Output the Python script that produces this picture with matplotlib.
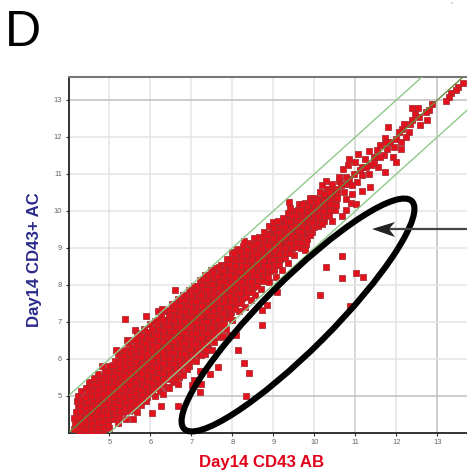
import matplotlib
matplotlib.use("Agg")
import matplotlib.pyplot as plt
from matplotlib.patches import Ellipse, Polygon

x_ticks = [5, 6, 7, 8, 9, 10, 11, 12, 13]
y_ticks = [5, 6, 7, 8, 9, 10, 11, 12, 13]
x_label = "Day14 CD43 AB"
y_label = "Day14 CD43+ AC"
panel_letter = "D"
fold_offsets = [-1, 0, 1]

# outline of the saturated part of the cloud, where single points cannot be told apart
mass_x = [4.2, 4.6, 5.0, 5.4, 5.8, 6.2, 6.6, 7.0, 7.4, 7.8, 8.2, 8.6, 9.0, 9.4, 9.8, 10.2, 10.5]
mass_low = [4.15, 4.18, 4.3, 4.6, 5.0, 5.3, 5.65, 6.05, 6.45, 6.95, 7.5, 7.95, 8.35, 8.85, 9.3, 9.75, 10.1]
mass_up = [4.8, 5.35, 5.8, 6.2, 6.6, 7.0, 7.4, 7.75, 8.15, 8.5, 8.9, 9.25, 9.6, 9.95, 10.2, 10.45, 10.5]

cloud_low = [
 (4.14,4.1),(4.16,4.26),(4.13,4.41),(4.18,4.55),(4.22,4.7),(4.27,4.12),(4.3,4.27),(4.26,4.43),(4.31,4.58),(4.29,4.74),
 (4.33,4.88),(4.41,4.1),(4.44,4.24),(4.4,4.38),(4.46,4.52),(4.42,4.67),(4.45,4.82),(4.41,4.97),(4.47,5.09),
 (4.55,4.13),(4.58,4.27),(4.54,4.42),(4.59,4.56),(4.55,4.71),(4.6,4.85),(4.56,5.0),(4.6,5.15),(4.57,5.28),
 (4.69,4.15),(4.72,4.3),(4.67,4.45),(4.71,4.6),(4.68,4.74),(4.73,4.89),(4.69,5.03),(4.72,5.18),(4.68,5.32),(4.74,5.44),
 (4.83,4.16),(4.85,4.32),(4.81,4.47),(4.86,4.62),(4.82,4.77),(4.87,4.91),(4.83,5.06),(4.86,5.2),(4.82,5.35),(4.87,5.5),
 (4.96,4.22),(4.99,4.36),(4.95,4.51),(5.0,4.66),(4.96,4.8),(5.01,4.95),(4.97,5.1),(5.0,5.24),(4.96,5.39),(5.01,5.53),(4.97,5.68),(5.0,5.8),
 (5.1,4.38),(5.13,4.52),(5.09,4.67),(5.14,4.81),(5.1,4.96),(5.13,5.1),(5.09,5.25),(5.14,5.39),(5.1,5.54),(5.13,5.68),(5.09,5.83),(5.14,5.95),
 (5.23,4.44),(5.26,4.6),(5.22,4.74),(5.27,4.89),(5.23,5.03),(5.26,5.18),(5.22,5.32),(5.27,5.47),(5.23,5.61),(5.26,5.76),(5.22,5.9),(5.27,6.03),
 (5.37,4.67),(5.4,4.82),(5.36,4.96),(5.41,5.11),(5.37,5.25),(5.4,5.4),(5.36,5.54),(5.41,5.69),(5.37,5.83),(5.4,5.98),(5.36,6.1),(5.41,6.24),
 (5.5,4.72),(5.53,4.87),(5.49,5.01),(5.54,5.16),(5.5,5.3),(5.53,5.45),(5.49,5.59),(5.54,5.74),(5.5,5.88),(5.53,6.03),(5.49,6.17),(5.54,6.31),
 (5.64,4.78),(5.67,4.93),(5.63,5.07),(5.68,5.22),(5.64,5.36),(5.67,5.51),(5.63,5.65),(5.68,5.8),(5.64,5.94),(5.67,6.09),(5.63,6.23),(5.68,6.38),(5.65,6.5),
 (5.77,4.9),(5.8,5.04),(5.76,5.19),(5.81,5.33),(5.77,5.48),(5.8,5.62),(5.76,5.77),(5.81,5.91),(5.77,6.06),(5.8,6.2),(5.76,6.35),(5.81,6.49),(5.78,6.62),
 (5.91,4.98),(5.94,5.12),(5.9,5.27),(5.95,5.41),(5.91,5.56),(5.94,5.7),(5.9,5.85),(5.95,5.99),(5.91,6.14),(5.94,6.28),(5.9,6.43),(5.95,6.57),(5.91,6.72),
]

cloud_mid = [
 (6.04,5.08),(6.07,5.22),(6.03,5.37),(6.08,5.51),(6.04,5.66),(6.07,5.8),(6.03,5.95),(6.08,6.09),(6.04,6.24),(6.07,6.38),(6.03,6.53),(6.08,6.67),(6.04,6.82),
 (6.17,5.2),(6.2,5.35),(6.16,5.49),(6.21,5.64),(6.17,5.78),(6.2,5.93),(6.16,6.07),(6.21,6.22),(6.17,6.36),(6.2,6.51),(6.16,6.65),(6.21,6.8),(6.17,6.94),(6.2,7.06),
 (6.31,5.32),(6.34,5.46),(6.3,5.61),(6.35,5.75),(6.31,5.9),(6.34,6.04),(6.3,6.19),(6.35,6.33),(6.31,6.48),(6.34,6.62),(6.3,6.77),(6.35,6.91),(6.31,7.06),
 (6.44,5.45),(6.47,5.6),(6.43,5.74),(6.48,5.89),(6.44,6.03),(6.47,6.18),(6.43,6.32),(6.48,6.47),(6.44,6.61),(6.47,6.76),(6.43,6.9),(6.48,7.05),(6.44,7.19),(6.47,7.31),
 (6.58,5.6),(6.61,5.74),(6.57,5.89),(6.62,6.03),(6.58,6.18),(6.61,6.32),(6.57,6.47),(6.62,6.61),(6.58,6.76),(6.61,6.9),(6.57,7.05),(6.62,7.19),(6.58,7.34),(6.61,7.46),
 (6.71,5.7),(6.74,5.85),(6.7,5.99),(6.75,6.14),(6.71,6.28),(6.74,6.43),(6.7,6.57),(6.75,6.72),(6.71,6.86),(6.74,7.01),(6.7,7.15),(6.75,7.3),(6.71,7.44),(6.74,7.58),
 (6.85,5.85),(6.88,6.0),(6.84,6.14),(6.89,6.29),(6.85,6.43),(6.88,6.58),(6.84,6.72),(6.89,6.87),(6.85,7.01),(6.88,7.16),(6.84,7.3),(6.89,7.45),(6.85,7.59),(6.88,7.72),
 (6.98,5.98),(7.01,6.12),(6.97,6.27),(7.02,6.41),(6.98,6.56),(7.01,6.7),(6.97,6.85),(7.02,6.99),(6.98,7.14),(7.01,7.28),(6.97,7.43),(7.02,7.57),(6.98,7.72),(7.01,7.84),
 (7.12,6.12),(7.15,6.27),(7.11,6.41),(7.16,6.56),(7.12,6.7),(7.15,6.85),(7.11,6.99),(7.16,7.14),(7.12,7.28),(7.15,7.43),(7.11,7.57),(7.16,7.72),(7.12,7.86),(7.15,7.98),
 (7.25,6.28),(7.28,6.43),(7.24,6.57),(7.29,6.72),(7.25,6.86),(7.28,7.01),(7.24,7.15),(7.29,7.3),(7.25,7.44),(7.28,7.59),(7.24,7.73),(7.29,7.88),(7.25,8.02),(7.28,8.12),
 (7.39,6.42),(7.42,6.57),(7.38,6.71),(7.43,6.86),(7.39,7.0),(7.42,7.15),(7.38,7.29),(7.43,7.44),(7.39,7.58),(7.42,7.73),(7.38,7.87),(7.43,8.02),(7.39,8.16),(7.42,8.26),
 (7.52,6.58),(7.55,6.73),(7.51,6.87),(7.56,7.02),(7.52,7.16),(7.55,7.31),(7.51,7.45),(7.56,7.6),(7.52,7.74),(7.55,7.89),(7.51,8.03),(7.56,8.18),(7.52,8.32),
 (7.66,6.78),(7.69,6.92),(7.65,7.07),(7.7,7.21),(7.66,7.36),(7.69,7.5),(7.65,7.65),(7.7,7.79),(7.66,7.94),(7.69,8.08),(7.65,8.23),(7.7,8.37),(7.66,8.49),
 (7.79,6.95),(7.82,7.1),(7.78,7.24),(7.83,7.39),(7.79,7.53),(7.82,7.68),(7.78,7.82),(7.83,7.97),(7.79,8.11),(7.82,8.26),(7.78,8.4),(7.83,8.55),
 (7.93,7.12),(7.96,7.27),(7.92,7.41),(7.97,7.56),(7.93,7.7),(7.96,7.85),(7.92,7.99),(7.97,8.14),(7.93,8.28),(7.96,8.43),(7.92,8.57),(7.97,8.7),
]

cloud_high = [
 (8.06,7.35),(8.09,7.5),(8.05,7.64),(8.1,7.79),(8.06,7.93),(8.09,8.08),(8.05,8.22),(8.1,8.37),(8.06,8.51),(8.09,8.66),(8.05,8.78),
 (8.2,7.5),(8.23,7.65),(8.19,7.79),(8.24,7.94),(8.2,8.08),(8.23,8.23),(8.19,8.37),(8.24,8.52),(8.2,8.66),(8.23,8.8),(8.19,8.92),
 (8.33,7.66),(8.36,7.8),(8.32,7.95),(8.37,8.09),(8.33,8.24),(8.36,8.38),(8.32,8.53),(8.37,8.67),(8.33,8.82),(8.36,8.95),
 (8.47,7.8),(8.5,7.95),(8.46,8.09),(8.51,8.24),(8.47,8.38),(8.5,8.53),(8.46,8.67),(8.51,8.82),(8.47,8.96),(8.5,9.08),
 (8.6,7.98),(8.63,8.12),(8.59,8.27),(8.64,8.41),(8.6,8.56),(8.63,8.7),(8.59,8.85),(8.64,8.99),(8.6,9.14),
 (8.74,8.1),(8.77,8.25),(8.73,8.39),(8.78,8.54),(8.74,8.68),(8.77,8.83),(8.73,8.97),(8.78,9.12),(8.74,9.26),
 (8.87,8.22),(8.9,8.37),(8.86,8.51),(8.91,8.66),(8.87,8.8),(8.9,8.95),(8.86,9.09),(8.91,9.24),(8.87,9.36),
 (9.01,8.4),(9.04,8.55),(9.0,8.69),(9.05,8.84),(9.01,8.98),(9.04,9.13),(9.0,9.27),(9.05,9.42),(9.01,9.55),
 (9.14,8.55),(9.17,8.7),(9.13,8.84),(9.18,8.99),(9.14,9.13),(9.17,9.28),(9.13,9.42),(9.18,9.57),
 (9.28,8.72),(9.31,8.87),(9.27,9.01),(9.32,9.16),(9.28,9.3),(9.31,9.45),(9.27,9.59),(9.32,9.74),
 (9.41,8.85),(9.44,9.0),(9.4,9.14),(9.45,9.29),(9.41,9.43),(9.44,9.58),(9.4,9.72),(9.45,9.87),
 (9.55,9.02),(9.58,9.17),(9.54,9.31),(9.59,9.46),(9.55,9.6),(9.58,9.75),(9.54,9.89),(9.59,10.03),
 (9.68,9.15),(9.71,9.3),(9.67,9.44),(9.72,9.59),(9.68,9.73),(9.71,9.88),(9.67,10.02),
 (9.82,9.25),(9.85,9.42),(9.81,9.56),(9.86,9.71),(9.82,9.85),(9.85,10.0),(9.81,10.14),
 (9.95,9.42),(9.98,9.57),(9.94,9.71),(9.99,9.86),(9.95,10.0),(9.98,10.15),
 (10.09,9.58),(10.12,9.73),(10.08,9.87),(10.13,10.02),(10.09,10.16),(10.12,10.31),
 (10.22,9.72),(10.25,9.86),(10.21,10.01),(10.26,10.15),(10.22,10.3),(10.25,10.42),
 (10.36,9.88),(10.39,10.02),(10.35,10.17),(10.4,10.3),(10.42,10.43),
 (10.5,10.02),(10.53,10.16),(10.49,10.31),(10.54,10.45),
]

cloud_top = [
 (13.62,13.45),(13.51,13.36),(13.44,13.27),(13.32,13.2),(13.29,13.09),(13.2,12.97),(12.87,12.88),(12.52,12.79),(12.37,12.77),
 (12.8,12.72),(12.71,12.67),(12.44,12.63),(12.55,12.54),(12.75,12.45),(12.38,12.45),(12.58,12.31),(12.34,12.36),(12.18,12.36),
 (11.8,12.28),(12.14,12.22),(12.3,12.13),(12.06,12.13),(11.73,11.98),(11.98,11.95),(12.22,12.0),(12.1,11.86),(11.85,11.86),
 (11.61,11.77),(11.93,11.74),(12.11,11.66),(11.77,11.68),(11.53,11.64),(11.34,11.62),(11.06,11.55),(11.91,11.45),(11.99,11.32),
 (11.69,11.5),(11.45,11.45),(11.24,11.41),(10.84,11.4),(11.0,11.32),(11.54,11.2),(11.37,11.23),(11.16,11.18),(10.82,11.23),
 (10.69,11.12),(11.71,11.06),(11.33,11.0),(11.16,10.96),(10.96,11.0),(10.76,10.91),(10.59,10.91),(11.35,10.65),(11.15,10.54),
 (11.04,10.78),(10.92,10.69),(10.76,10.73),(10.27,10.8),(10.43,10.73),(10.92,10.46),(10.71,10.51),(10.55,10.6),(10.19,10.69),
 (10.35,10.51),(9.37,10.24),(9.41,10.09),(10.76,10.33),(10.88,10.21),(11.02,10.18),(10.76,10.03),(10.68,9.86),(10.54,10.34),
 (10.39,10.19),(10.23,10.46),(10.07,10.28),(9.9,10.28),(9.7,10.19),(10.43,9.72),(10.19,9.65),(9.9,9.34),(9.76,8.95),
 (8.27,9.19),(8.03,8.86),(11.25,11.2),(11.1,11.1),(11.45,11.3),(11.6,11.45),(11.75,11.85),(10.85,10.85),(10.65,10.7),
]

edge_upper = [
 (4.2,4.85),(4.24,5.0),(4.3,5.13),(4.42,5.22),(4.5,5.38),(4.62,5.48),(4.72,5.6),(4.88,5.68),(5.2,6.12),(5.32,6.2),
 (5.46,6.42),(5.58,6.5),(5.72,6.7),(5.85,6.8),(5.98,6.95),(6.12,7.02),(6.26,7.18),(6.38,7.28),(6.52,7.48),(6.66,7.62),
 (6.8,7.72),(6.94,7.86),(7.06,7.96),(7.2,8.14),(7.34,8.28),(7.48,8.4),(7.6,8.45),(7.72,8.55),(7.86,8.7),(7.99,8.88),
 (8.12,8.98),(8.26,9.05),(8.4,9.12),(8.52,9.26),(8.64,9.3),(8.78,9.42),(8.88,9.58),(9.0,9.7),(9.12,9.72),(9.22,9.82),
 (9.35,9.95),(9.5,10.0),(9.62,10.18),(9.76,10.2),(9.88,10.36),(10.0,10.34),(10.14,10.5),(10.3,10.6),(10.46,10.58),(10.6,10.8),
]

edge_lower = [
 (4.25,4.06),(4.4,4.04),(4.55,4.05),(4.7,4.06),(4.85,4.08),(5.0,4.12),(5.34,4.55),(5.48,4.6),(5.62,4.62),(5.76,4.75),
 (5.9,4.85),(6.1,5.0),(6.24,5.12),(6.4,5.24),(6.55,5.38),(6.7,5.5),(6.95,5.8),(7.1,5.95),(7.22,6.1),(7.4,6.28),
 (7.55,6.45),(7.7,6.6),(7.85,6.82),(8.0,7.05),(8.15,7.28),(8.3,7.4),(8.45,7.6),(8.55,7.72),(8.7,7.9),(8.9,8.08),
 (9.05,8.2),(9.2,8.4),(9.36,8.6),(9.5,8.82),(9.66,9.0),(9.8,9.1),
]

outliers = [
 (10.68,8.79),(10.29,8.48),(10.68,8.19),(11.02,8.33),(11.18,8.21),(10.13,7.72),(10.86,7.44),(9.09,7.82),(8.83,7.46),(8.71,7.33),
 (8.72,6.92),(8.13,6.25),(8.29,5.9),(8.4,5.61),(8.34,4.99),(8.08,6.64),(5.37,7.08),(5.9,7.15),(6.18,7.28),(6.29,7.34),(6.59,7.86),
 (5.63,6.77),(5.68,6.68),(5.43,6.51),(5.15,6.23),(4.82,5.81),(6.26,4.72),(6.04,4.53),(6.68,4.72),(5.57,4.38),(5.41,4.38),(5.2,4.26),
 (5.67,4.55),(7.2,5.1),(7.24,5.31),(7.45,5.6),(7.64,5.79),(7.02,5.28),(7.07,5.42),(7.2,5.67),(6.68,5.31),(6.8,5.55),(7.5,6.25),
 (7.34,6.12),(7.76,6.61),(7.93,6.64),(6.3,5.05),(6.45,5.2),(6.6,5.45),(6.9,5.72),(7.35,6.25),
]

plt.rcParams["font.family"] = ["Liberation Sans", "DejaVu Sans"]
fig = plt.figure(figsize=(4.67, 4.72), dpi=100, facecolor="white")
W, H = 467, 472
L, B, R, T = 68.5, 432.8, 467, 77
ax = fig.add_axes([L / W, 1 - B / H, (R - L) / W, (B - T) / H])
ax.set_xlim(4.0, 13.72)
ax.set_ylim(4.0, 13.62)

ax.set_xticks(x_ticks)
ax.set_yticks(y_ticks)
ax.tick_params(axis="both", length=2, width=0.8, color="#333333", labelcolor="#666666",
               labelsize=5.5, pad=2.5)
ax.grid(True, color="#e4e4e4", lw=1.1, zorder=0)
ax.set_axisbelow(True)
for line in (ax.get_ygridlines()[-1], ax.get_ygridlines()[0], ax.get_xgridlines()[-1]):
    line.set_color("#c0c0c0")
ax.get_xgridlines()[-3].set_color("#d0d0d0")

ax.spines["right"].set_visible(False)
ax.spines["top"].set_color("#777777")
ax.spines["top"].set_linewidth(1.5)
for side in ("left", "bottom"):
    ax.spines[side].set_color("#111111")
    ax.spines[side].set_linewidth(1.2)

ax.fill_between(mass_x, mass_low, mass_up, color="#b81e28", lw=0, zorder=2)
points = edge_upper + edge_lower + cloud_low + cloud_mid + cloud_high + cloud_top + outliers
ax.scatter([p[0] for p in points], [p[1] for p in points], marker="s", s=21,
           facecolor="#e4121c", edgecolor="#a82a30", linewidths=0.55, zorder=3)

lims = [3, 15]
for off in fold_offsets:
    ax.plot(lims, [v + off for v in lims], lw=1.0, zorder=4,
            color="#6b8a3c" if off == 0 else "#8ec98a")

fig.text(199 / W, 1 - 467.5 / H, x_label, color="#e2001a", fontsize=12.1, fontweight="bold", va="baseline")
fig.text(35 / W, 1 - 259.5 / H, y_label, color="#2a2a8c", fontsize=12.1, fontweight="bold",
         rotation=90, ha="center", va="center")
fig.text(5 / W, 1 - 46 / H, panel_letter, color="black", fontsize=36, va="baseline")
fig.text(451 / W, 1 - 2 / H, ",", color="#555555", fontsize=5, ha="center", va="center")

over = fig.add_axes([0, 0, 1, 1], facecolor="none")
over.set_xlim(0, W)
over.set_ylim(H, 0)
over.axis("off")
over.add_patch(Ellipse((298, 315), 322, 69.4, angle=-45, fill=False, edgecolor="black", lw=4.4, zorder=5))
over.plot([385, 467], [229, 229], color="#444444", lw=1.6, zorder=5, solid_capstyle="butt")
over.add_patch(Polygon([(372, 229), (395, 222), (389, 229), (395, 237)], closed=True,
                       facecolor="#222222", edgecolor="none", zorder=6))

fig.savefig("out.png", dpi=100)
